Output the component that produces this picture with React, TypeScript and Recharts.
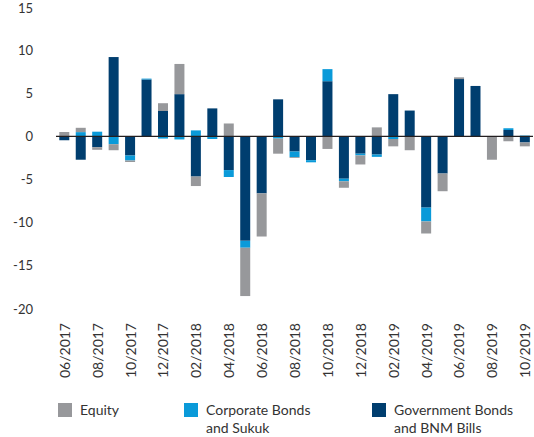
import React from 'react';
import { BarChart, Bar, XAxis, YAxis, ReferenceLine } from 'recharts';

const months = [
  '06/2017', '07/2017', '08/2017', '09/2017', '10/2017', '11/2017', '12/2017',
  '01/2018', '02/2018', '03/2018', '04/2018', '05/2018', '06/2018', '07/2018',
  '08/2018', '09/2018', '10/2018', '11/2018', '12/2018', '01/2019', '02/2019',
  '03/2019', '04/2019', '05/2019', '06/2019', '07/2019', '08/2019', '09/2019',
  '10/2019',
];

const equity = [
  0.5, 0.5, -0.3, -0.7, -0.15, 0, 0.9, 3.5, -1.1, 0, 1.5, -5.6, -5.0, -1.75,
  -0.1, 0, -1.45, -0.75, -1.05, 1.05, -0.85, -1.6, -1.4, -2.05, 0.2, 0, -2.7,
  -0.55, -0.45,
];

const corporate = [
  0, 0.5, 0.55, -0.9, -0.6, 0.1, -0.25, -0.35, 0.7, -0.3, -0.8, -0.8, 0, -0.25,
  -0.65, -0.25, 1.4, -0.3, -0.2, -0.27, -0.3, 0, -1.6, 0, 0, 0, 0, 0.2, 0.1,
];

const government = [
  -0.45, -2.7, -1.25, 9.2, -2.2, 6.6, 2.95, 4.9, -4.65, 3.25, -3.9, -12.1, -6.6,
  4.3, -1.75, -2.75, 6.4, -4.9, -2.0, -2.1, 4.9, 3.0, -8.25, -4.3, 6.65, 5.85, 0,
  0.75, -0.7,
];

const yTicks = [-20, -15, -10, -5, 0, 5, 10, 15];

const COLORS = {
  equity: '#97989b',
  corporate: '#0a9ad9',
  government: '#003e6f',
  text: '#333333',
};

const legendItems = [
  { label: ['Equity'], color: COLORS.equity, width: 126 },
  { label: ['Corporate Bonds', 'and Sukuk'], color: COLORS.corporate, width: 188 },
  { label: ['Government Bonds', 'and BNM Bills'], color: COLORS.government, width: 160 },
];

const data = months.map((month, i) => ({
  month,
  equity: equity[i],
  corporate: corporate[i],
  government: government[i],
}));

function MonthTick({ x, y, payload }: any) {
  return (
    <text
      transform={`translate(${x},${y}) rotate(-90)`}
      textAnchor="end"
      dominantBaseline="central"
      fontSize={14}
      fill={COLORS.text}
    >
      {payload.value}
    </text>
  );
}

function ChartLegend() {
  return (
    <div style={{ height: 43, display: 'flex', paddingLeft: 58, paddingTop: 7, boxSizing: 'border-box' }}>
      {legendItems.map((item) => (
        <div key={item.label[0]} style={{ width: item.width, display: 'flex', alignItems: 'flex-start' }}>
          <span style={{ width: 14, height: 14, background: item.color, marginTop: 2, marginRight: 8, flexShrink: 0 }} />
          <span style={{ fontSize: 14, lineHeight: '18px', color: COLORS.text }}>
            {item.label.map((line) => (
              <div key={line}>{line}</div>
            ))}
          </span>
        </div>
      ))}
    </div>
  );
}

export default function App() {
  return (
    <div style={{ width: 534, height: 437, fontFamily: 'Lato, sans-serif' }}>
      <style>{'body{margin:0}'}</style>
      <BarChart
        width={534}
        height={394}
        data={data}
        stackOffset="sign"
        barCategoryGap="20%"
        margin={{ top: 7, right: 1, left: 0, bottom: 0 }}
      >
        <XAxis
          dataKey="month"
          interval={1}
          axisLine={false}
          tickLine={false}
          tickSize={0}
          tickMargin={14}
          height={85}
          tick={<MonthTick />}
        />
        <YAxis
          domain={[-20, 15]}
          ticks={yTicks}
          axisLine={false}
          tickLine={false}
          tickSize={0}
          tickMargin={23}
          width={56}
          tick={{ fill: COLORS.text, fontSize: 13 }}
        />
        <Bar dataKey="government" stackId="a" fill={COLORS.government} isAnimationActive={false} />
        <Bar dataKey="corporate" stackId="a" fill={COLORS.corporate} isAnimationActive={false} />
        <Bar dataKey="equity" stackId="a" fill={COLORS.equity} isAnimationActive={false} />
        <ReferenceLine y={0} stroke="#231f20" strokeWidth={1.2} />
      </BarChart>
      <ChartLegend />
    </div>
  );
}
